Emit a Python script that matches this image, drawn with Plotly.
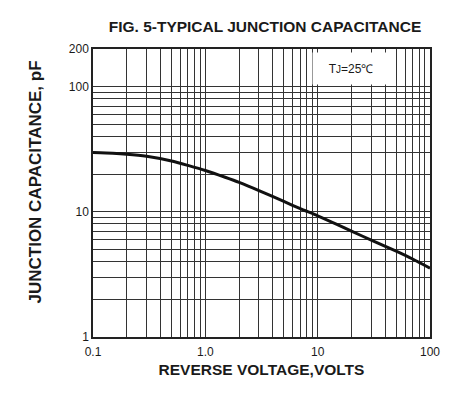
import plotly.graph_objects as go

# Data
voltage = [0.1, 0.15, 0.2, 0.3, 0.5, 0.7, 1.0, 1.5, 2, 3, 5, 7, 10, 15, 20, 30, 50, 70, 100]
capacitance = [29.8, 29.4, 28.9, 27.8, 25.5, 23.5, 21.4, 18.9, 17.2, 14.8, 12.1, 10.6, 9.3, 7.9, 7.0, 5.95, 4.85, 4.2, 3.55]

x_label_vals = [0.1, 1, 10, 100]
x_label_text = ["0.1", "1.0", "10", "100"]
y_label_vals = [1, 10, 100, 200]
y_label_text = ["1", "10", "100", "200"]

x_grid = [m * d for d in (0.1, 1, 10) for m in range(1, 10)] + [100]
y_grid = [m * d for d in (1, 10) for m in range(1, 10)] + [100, 200]

def ticktexts(vals, lab_vals, lab_text):
    out = []
    for v in vals:
        t = ""
        for lv, lt in zip(lab_vals, lab_text):
            if abs(v - lv) < 1e-9 * max(1, lv):
                t = lt
        out.append(t)
    return out

FONT = "Liberation Sans, Arial, sans-serif"
GRID = "#333333"
TXT = "#1a1a1a"
OFF = 8  # page body margin

def px(x):
    return (x - 93) / 337
def py(y):
    return (337 - y) / 288

fig = go.Figure()
fig.add_trace(go.Scatter(
    x=voltage, y=capacitance, mode="lines",
    line=dict(color="#111111", width=3, shape="spline", smoothing=0.6),
    showlegend=False, hoverinfo="skip",
))

fig.update_layout(
    width=460, height=396,
    margin=dict(l=93 - OFF, r=460 - 430 + OFF, t=49 - OFF, b=396 - 337 + OFF),
    paper_bgcolor="white", plot_bgcolor="white",
    font=dict(family=FONT, color=TXT),
    title=dict(text="<b>FIG. 5-TYPICAL JUNCTION CAPACITANCE</b>",
               x=(265 - OFF) / 460, xanchor="center", y=1 - (27 - OFF) / 396, yanchor="middle",
               font=dict(size=15.5, family=FONT, color=TXT)),
    showlegend=False,
)

fig.update_xaxes(
    type="log", range=[-1, 2],
    tickvals=x_grid, ticktext=ticktexts(x_grid, x_label_vals, x_label_text),
    tickfont=dict(size=12, family=FONT, color=TXT),
    ticks="", showgrid=True, gridcolor=GRID, gridwidth=1,
    showline=True, mirror=True, linecolor="#222222", linewidth=1.5,
    zeroline=False, ticklabelstandoff=3,
    title=dict(text="<b>REVERSE VOLTAGE,VOLTS</b>", standoff=6,
               font=dict(size=15.5, family=FONT, color=TXT)),
)
fig.update_yaxes(
    type="log", range=[0, 2.30103],
    tickvals=y_grid, ticktext=ticktexts(y_grid, y_label_vals, y_label_text),
    tickfont=dict(size=12, family=FONT, color=TXT),
    ticks="", showgrid=True, gridcolor=GRID, gridwidth=1,
    showline=True, mirror=True, linecolor="#222222", linewidth=1.5,
    zeroline=False,
)

# y-axis title placed to match the reference
fig.add_annotation(
    xref="paper", yref="paper", x=px(35), y=py(182.5),
    text="<b>JUNCTION CAPACITANCE, pF</b>", textangle=-90,
    showarrow=False, xanchor="center", yanchor="middle",
    font=dict(size=17, family=FONT, color=TXT),
)

fig.add_annotation(
    xref="paper", yref="paper", x=px(350.5), y=py(68),
    text="T<span style='font-size:10px'>J</span>=25℃",
    showarrow=False, bgcolor="white", width=74, height=29,
    font=dict(size=12, family=FONT, color=TXT),
    xanchor="center", yanchor="middle",
)

fig.write_html("out.html")
